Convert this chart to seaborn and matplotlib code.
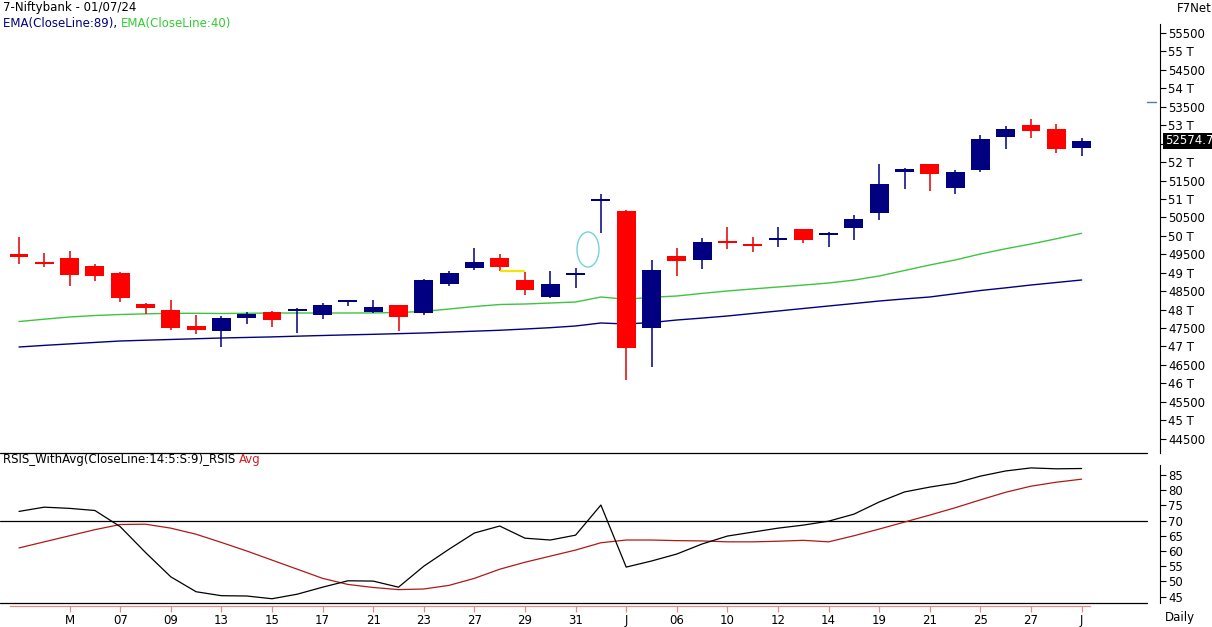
import numpy as np
import pandas as pd
import matplotlib
matplotlib.use("Agg")
import matplotlib.pyplot as plt
import matplotlib.transforms as mtransforms
from matplotlib.patches import Ellipse
import seaborn as sns

# ---------------- data ----------------
opens = [49508, 49290, 49399, 49182, 49001, 48152, 47989, 47555, 47428, 47781,
         47927, 47981, 47862, 48225, 47935, 48125, 47916, 48702, 49136, 49399,
         48803, 48342, 48955, 50960, 50674, 47509, 49453, 49353, 49840, 49771,
         49910, 50186, 50040, 50221, 50628, 51739, 51948, 51306, 51785, 52689,
         53005, 52897, 52390]
highs = [49969, 49527, 49589, 49236, 49020, 48187, 48252, 47853, 47835, 47927,
         47954, 48043, 48179, 48240, 48261, 48130, 48830, 49047, 49679, 49508,
         49011, 49047, 49128, 51135, 50690, 49345, 49670, 49942, 50232, 49961,
         50232, 50195, 50096, 50565, 51940, 51832, 51960, 51785, 52735, 52970,
         53160, 53033, 52653]
lows = [49250, 49147, 48648, 48784, 48214, 47873, 47455, 47330, 46994, 47618,
        47537, 47357, 47753, 48106, 47916, 47428, 47853, 48648, 49066, 49055,
        48396, 48323, 48578, 50085, 46091, 46452, 48919, 49093, 49635, 49554,
        49706, 49814, 49706, 49887, 50430, 51278, 51224, 51135, 51740, 52355,
        52645, 52254, 52173]
closes = [49426, 49260, 48938, 48911, 48323, 48052, 47509, 47440, 47764, 47881,
          47726, 47995, 48125, 48232, 48070, 47808, 48803, 48993, 49291, 49163,
          48540, 48693, 48975, 50975, 46967, 49074, 49326, 49833, 49812, 49733,
          49930, 49880, 50060, 50448, 51406, 51813, 51685, 51731, 52626, 52897,
          52851, 52355, 52574.7]
ema89 = [46986, 47030, 47070, 47110, 47149, 47170, 47190, 47210, 47230, 47245,
         47260, 47280, 47298, 47315, 47330, 47348, 47366, 47390, 47415, 47440,
         47474, 47510, 47556, 47637, 47610, 47650, 47718, 47770, 47827, 47895,
         47962, 48030, 48098, 48165, 48233, 48290, 48342, 48430, 48518, 48590,
         48667, 48735, 48803]
ema40 = [47677, 47740, 47800, 47840, 47867, 47885, 47900, 47900, 47895, 47900,
         47908, 47908, 47908, 47908, 47910, 47922, 47950, 48016, 48083, 48138,
         48152, 48179, 48206, 48342, 48280, 48334, 48369, 48440, 48505, 48560,
         48613, 48665, 48721, 48800, 48911, 49060, 49210, 49345, 49508, 49650,
         49779, 49920, 50069]
rsis = [73.0, 74.4, 74.0, 73.3, 68.0, 59.5, 51.5, 46.6, 45.3, 45.2,
        44.3, 45.8, 48.1, 50.2, 50.1, 48.1, 55.0, 60.6, 65.9, 68.2,
        64.2, 63.6, 65.2, 75.1, 54.7, 56.7, 59.0, 62.3, 64.9, 66.2,
        67.5, 68.5, 69.8, 72.1, 76.1, 79.4, 81.0, 82.3, 84.6, 86.3,
        87.3, 87.0, 87.1]
rsi_avg = [61.0, 63.0, 65.0, 67.0, 68.7, 68.8, 67.5, 65.5, 62.8, 60.0,
           57.0, 54.0, 51.0, 49.0, 48.0, 47.3, 47.5, 48.7, 51.0, 54.0,
           56.3, 58.3, 60.3, 62.7, 63.6, 63.6, 63.4, 63.3, 63.0, 63.0,
           63.2, 63.5, 63.0, 65.0, 67.2, 69.5, 71.8, 74.2, 76.8, 79.3,
           81.3, 82.6, 83.6]
date_labels = ["M", "07", "09", "13", "15", "17", "21", "23", "27", "29", "31",
               "J", "06", "10", "12", "14", "19", "21", "25", "27", "J"]
price_ticks = list(range(44500, 56000, 500))
rsi_ticks = [45, 50, 55, 60, 65, 70, 75, 80, 85]
rsi_level = 70
yellow_level = 49060
yellow_span = [19.05, 19.95]
gap_circle = dict(x=22.49, y=49630, w=0.87, h=950)
marker_level = 53620

# ---------------- style ----------------
sns.set_theme(style="white")
plt.rcParams["font.family"] = ["DejaVu Sans"]
FS = 8.5
NAVY = "#000080"
RED = "#ff0000"
GREEN = "#3fc43f"
PINK = "#d9908c"

W, H = 1212, 627
fig = plt.figure(figsize=(W / 100, H / 100), dpi=100)
fig.patch.set_facecolor("white")

def fy(py):
    return 1 - py / H

right_px = 1160
ax = fig.add_axes([0, fy(453), right_px / W, (453 - 24) / H])
axr = fig.add_axes([0, fy(603), right_px / W, (603 - 453) / H], sharex=ax)

n = len(closes)
idx = np.arange(n)
o = np.array(opens, float)
c = np.array(closes, float)
hi = np.array(highs, float)
lo = np.array(lows, float)

df = pd.DataFrame({"i": idx, "ema89": ema89, "ema40": ema40,
                   "rsis": rsis, "avg": rsi_avg})

# EMA lines
sns.lineplot(data=df, x="i", y="ema89", ax=ax, color=NAVY, lw=1.0, zorder=2)
sns.lineplot(data=df, x="i", y="ema40", ax=ax, color=GREEN, lw=1.0, zorder=2)

# candles
up = c >= o
body_cols = np.where(up, NAVY, RED)
wick_cols = np.where(up, NAVY, "#e00000")
ax.vlines(idx, lo, hi, colors=wick_cols, lw=1.1, zorder=3)
min_h = 50
mid = (o + c) / 2
hgt = np.maximum(np.abs(c - o), min_h)
ax.bar(idx, hgt, bottom=mid - hgt / 2, width=0.75, color=body_cols,
       linewidth=0, zorder=4)

# annotations
ax.plot(yellow_span, [yellow_level, yellow_level], color="#f2e600", lw=1.6, zorder=3)
ax.add_patch(Ellipse((gap_circle["x"], gap_circle["y"]), gap_circle["w"],
                     gap_circle["h"], fill=False, edgecolor="#72d3de", lw=1.0, zorder=3))

x_left = -0.751
x_right = (right_px - 19) / 25.3
ax.set_xlim(x_left, x_right)
ax.set_ylim(44112, 55744)

for s in ["top", "left", "bottom"]:
    ax.spines[s].set_visible(False)
ax.spines["right"].set_color("black")
ax.spines["right"].set_linewidth(0.8)
ax.yaxis.tick_right()
ax.set_yticks(price_ticks)
last = closes[-1]
ax.set_yticklabels([("" if abs(v - last) < 250 else
                     (f"{v // 1000} T" if v % 1000 == 0 else str(v)))
                    for v in price_ticks])
ax.tick_params(axis="y", direction="out", length=4, width=0.8, pad=2,
               labelsize=FS, colors="black", right=True, left=False)
ax.tick_params(axis="x", bottom=False, labelbottom=False)
ax.set_xlabel("")
ax.set_ylabel("")

trans = mtransforms.blended_transform_factory(ax.transAxes, ax.transData)
ax.text(1165 / right_px, last, f"{last:.1f}", transform=trans, color="white",
        fontsize=FS, va="center", ha="left", clip_on=False,
        bbox=dict(facecolor="black", edgecolor="none", pad=1.2), zorder=6)
ax.plot([1147 / right_px, 1156 / right_px], [marker_level, marker_level],
        transform=trans, color="#4a7fb5", lw=1.0, clip_on=False)

# RSI panel
sns.lineplot(data=df, x="i", y="avg", ax=axr, color="#b01818", lw=0.9, zorder=3)
sns.lineplot(data=df, x="i", y="rsis", ax=axr, color="black", lw=0.9, zorder=4)
rlo, rhi = 42.9, 92.2
axr.set_ylim(rlo, rhi)
frac = 1147 / right_px
for lvl in [rhi, rsi_level, rlo]:
    axr.axhline(lvl, xmin=0, xmax=frac, color="black", lw=0.9, zorder=2,
                clip_on=False)
for s in ["top", "left"]:
    axr.spines[s].set_visible(False)
axr.spines["right"].set_color("black")
axr.spines["right"].set_linewidth(0.8)
axr.spines["right"].set_bounds(rlo, 88.3)
axr.yaxis.tick_right()
axr.set_yticks(rsi_ticks)
axr.set_yticklabels([str(v) for v in rsi_ticks])
axr.tick_params(axis="y", direction="out", length=4, width=0.8, pad=2,
                labelsize=FS, colors="black", right=True, left=False)

axr.spines["bottom"].set_color(PINK)
axr.spines["bottom"].set_linewidth(0.9)
axr.spines["bottom"].set_position(("outward", 2.2))
axr.spines["bottom"].set_bounds((10 - 19) / 25.3, (1090 - 19) / 25.3)
tick_idx = list(range(2, n, 2))
axr.set_xticks(tick_idx)
axr.set_xticklabels(date_labels)
axr.tick_params(axis="x", direction="out", length=4, width=0.9, color=PINK,
                labelcolor="black", labelsize=FS, pad=2, bottom=True)
axr.set_xlim(x_left, x_right)
axr.set_xlabel("")
axr.set_ylabel("")
axr.patch.set_alpha(0)
ax.patch.set_alpha(0)

# texts
fig.text(3 / W, fy(7), "7-Niftybank - 01/07/24", fontsize=FS, color="black",
         ha="left", va="center")
fig.canvas.draw()
r = fig.canvas.get_renderer()
t1 = fig.text(3 / W, fy(23), "EMA(CloseLine:89), ", fontsize=FS, color=NAVY,
              ha="left", va="center")
bb = t1.get_window_extent(renderer=r)
fig.text(bb.x1 / W, fy(23), "EMA(CloseLine:40)", fontsize=FS, color="#33cc33",
         ha="left", va="center")
t2 = fig.text(3 / W, fy(460), "RSIS_WithAvg(CloseLine:14:5:S:9)_RSIS ", fontsize=FS,
              color="black", ha="left", va="center")
bb2 = t2.get_window_extent(renderer=r)
fig.text(bb2.x1 / W, fy(460), "Avg", fontsize=FS, color="#cc2020",
         ha="left", va="center")
fig.text(1177 / W, fy(8), "F7Net", fontsize=FS, color="black", ha="left", va="center")
fig.text(1165 / W, fy(617), "Daily", fontsize=FS, color="black", ha="left", va="center")

fig.savefig("out.png", dpi=100, facecolor="white")
